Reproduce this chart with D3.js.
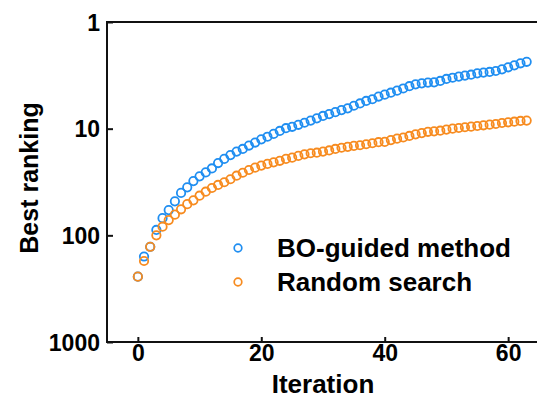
<!DOCTYPE html>
<html>
<head>
<meta charset="utf-8">
<script src="https://cdn.jsdelivr.net/npm/d3@7"></script>
<style>
  html, body { margin: 0; padding: 0; background: #fff; }
  svg { display: block; }
  text { font-family: "Liberation Sans", Arial, sans-serif; font-weight: bold; fill: #000; }
</style>
</head>
<body>
<svg id="chart" width="537" height="410"></svg>
<script>
// ---- data ----
const iterations = d3.range(0, 64);
const boGuided = [
  244, 158, 128, 89, 69, 58, 48, 40, 35.5, 31,
  28, 25.7, 23.6, 21, 19.2, 17.7, 16.4, 15.5, 14.4, 13.5,
  12.6, 11.9, 11.2, 10.5, 9.9, 9.6, 9.2, 8.8, 8.4, 8.0,
  7.6, 7.3, 7.0, 6.7, 6.45, 6.1, 5.8, 5.5, 5.3, 5.0,
  4.8, 4.6, 4.4, 4.2, 4.0, 3.84, 3.76, 3.7, 3.68, 3.57,
  3.42, 3.33, 3.25, 3.18, 3.12, 3.03, 2.98, 2.94, 2.88, 2.78,
  2.66, 2.55, 2.44, 2.36
];
const randomSearch = [
  244, 174, 128, 100, 83, 72, 64, 57, 51, 47,
  42.5, 39, 36, 33.7, 31.8, 29.8, 27.6, 25.9, 24.4, 23.2,
  22.2, 21.4, 20.7, 20.0, 19.2, 18.7, 18.0, 17.4, 17.0, 16.8,
  16.4, 16.0, 15.5, 15.1, 14.8, 14.5, 14.3, 14.0, 13.7, 13.4,
  13.3, 12.8, 12.4, 12.1, 11.7, 11.3, 11.0, 10.7, 10.6, 10.45,
  10.2, 10.0, 9.86, 9.7, 9.57, 9.44, 9.3, 9.17, 9.04, 8.85,
  8.72, 8.6, 8.47, 8.4
];
const seriesNames = ["BO-guided method", "Random search"];
const xTicks = [0, 20, 40, 60];
const yTicks = [1, 10, 100, 1000];
const xTitle = "Iteration";
const yTitle = "Best ranking";

// ---- layout ----
const colors = ["#1f8ef1", "#f78b1f"];
const plotLeft = 107, plotRight = 539, plotTop = 22, plotBottom = 342;

const svg = d3.select("#chart");
const x = d3.scaleLinear().domain([-5, 65]).range([plotLeft, plotRight]);
const y = d3.scaleLog().domain([1, 1000]).range([plotTop, plotBottom]);

// frame
svg.append("rect")
  .attr("x", plotLeft).attr("y", plotTop)
  .attr("width", plotRight - plotLeft).attr("height", plotBottom - plotTop)
  .attr("fill", "none").attr("stroke", "#111").attr("stroke-width", 2);

// axes
const yAxis = d3.axisLeft(y).tickValues(yTicks).tickFormat(d3.format("d"))
  .tickSize(-6).tickPadding(7);
const gy = svg.append("g").attr("transform", `translate(${plotLeft},0)`).call(yAxis);
gy.select(".domain").remove();
gy.selectAll(".tick line").attr("stroke", "#111").attr("stroke-width", 2);
gy.selectAll(".tick text").style("font-size", "23px").attr("dy", "0.36em");

const xAxis = d3.axisBottom(x).tickValues(xTicks).tickFormat(d3.format("d"))
  .tickSize(-5).tickPadding(3);
const gx = svg.append("g").attr("transform", `translate(0,${plotBottom})`).call(xAxis);
gx.select(".domain").remove();
gx.selectAll(".tick line").attr("stroke", "#111").attr("stroke-width", 2);
gx.selectAll(".tick text").style("font-size", "23px");

svg.selectAll("g.tick text").style("font-family", '"Liberation Sans", Arial, sans-serif')
  .style("font-weight", "bold").attr("fill", "#000");

// titles
svg.append("text")
  .attr("x", 323).attr("y", 393)
  .attr("text-anchor", "middle").style("font-size", "26px").text(xTitle);
svg.append("text")
  .attr("transform", `translate(38,${(plotTop + plotBottom) / 2 - 4}) rotate(-90)`)
  .attr("text-anchor", "middle").style("font-size", "25px").text(yTitle);

// points
const allSeries = [boGuided, randomSearch];
allSeries.forEach((vals, s) => {
  svg.append("g").selectAll("circle")
    .data(iterations.map((it, i) => ({ it, v: vals[i] })))
    .join("circle")
    .attr("cx", d => x(d.it))
    .attr("cy", d => y(d.v))
    .attr("r", 4.2)
    .attr("fill", "none")
    .attr("stroke", colors[s])
    .attr("stroke-width", 1.8);
});

// legend
const legY = [248, 282];
seriesNames.forEach((name, s) => {
  svg.append("circle")
    .attr("cx", 238).attr("cy", legY[s]).attr("r", 3.8)
    .attr("fill", "none").attr("stroke", colors[s]).attr("stroke-width", 1.7);
  svg.append("text")
    .attr("x", 277).attr("y", legY[s] + 9)
    .style("font-size", "26px").text(name);
});
</script>
</body>
</html>
